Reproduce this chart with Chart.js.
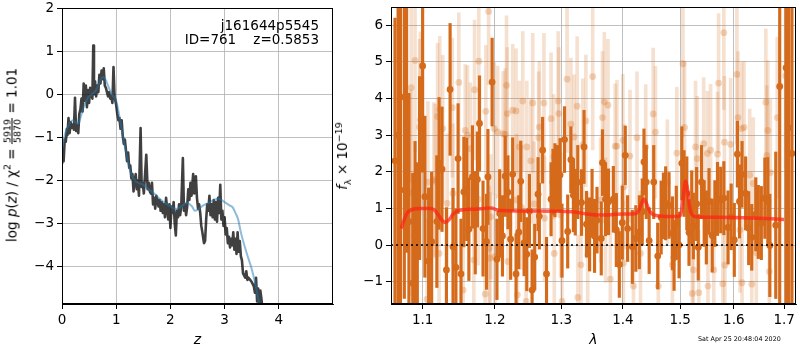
<!DOCTYPE html>
<html lang="en">
<head>
<meta charset="UTF-8">
<title>j161644p5545 ID=761 redshift fit</title>
<script src="https://cdn.jsdelivr.net/npm/chart.js"></script>
<style>
  body { margin: 0; background: #fff; font-family: 'DejaVu Sans', sans-serif; }
  #wrap { position: relative; width: 800px; height: 350px; overflow: hidden; }
  canvas { position: absolute; top: 0; }
  #pzChart { left: 0; }
  #specChart { left: 340px; }
  .txt { position: absolute; color: #000; white-space: pre; font-size: 13.5px; line-height: 14px; }
  .rot { transform: translate(-50%, -50%) rotate(-90deg); }
  .frac { display: inline-flex; flex-direction: column; vertical-align: middle; font-size: 9.5px; line-height: 9px; text-align: center; }
  .frac span:first-child { border-bottom: 0.8px solid #000; padding: 0 1px; }
  sup, sub { font-size: 9.5px; line-height: 0; }
</style>
</head>
<body>
<div id="wrap">
  <canvas id="pzChart" width="340" height="350"></canvas>
  <canvas id="specChart" width="460" height="350"></canvas>

  <div class="txt" style="right:481px; top:18px; text-align:right;">j161644p5545
ID=761    z=0.5853</div>
  <div class="txt rot" style="left:12px; top:155px;">log <i>p</i>(<i>z</i>) / χ<sup>2</sup> = <span class="frac"><span>5919</span><span>5870</span></span> = 1.01</div>
  <div class="txt rot" style="left:342px; top:156px;"><i>f</i><sub>λ</sub> × 10<sup>−19</sup></div>
  <div class="txt" style="left:698px; top:335px; font-size:6.4px; line-height:8px;">Sat Apr 25 20:48:04 2020</div>
</div>

<script>
  // p(z) panel
  const zGrid = [0.00, 0.02, 0.03, 0.05, 0.07, 0.09, 0.10, 0.12, 0.14, 0.16, 0.18, 0.20, 0.22, 0.24, 0.26, 0.28, 0.30,
    0.32, 0.34, 0.36, 0.38, 0.40, 0.42, 0.44, 0.46, 0.48, 0.50, 0.52, 0.54, 0.56, 0.577, 0.59, 0.61, 0.63, 0.65,
    0.67, 0.69, 0.71, 0.73, 0.75, 0.77, 0.79, 0.81, 0.83, 0.85, 0.87, 0.89, 0.91, 0.93, 0.95, 0.97, 1.00, 1.02,
    1.04, 1.06, 1.08, 1.10, 1.12, 1.14, 1.16, 1.18, 1.20, 1.22, 1.24, 1.26, 1.28, 1.30, 1.32, 1.34, 1.36, 1.38,
    1.40, 1.42, 1.45, 1.47, 1.49, 1.51, 1.53, 1.555, 1.58, 1.60, 1.62, 1.64, 1.66, 1.68, 1.70, 1.72, 1.74, 1.76,
    1.78, 1.80, 1.82, 1.84, 1.86, 1.88, 1.90, 1.92, 1.94, 1.96, 1.98, 2.00, 2.02, 2.04, 2.06, 2.08, 2.10, 2.12,
    2.14, 2.16, 2.18, 2.20, 2.23, 2.25, 2.27, 2.29, 2.31, 2.33, 2.35, 2.37, 2.39, 2.42, 2.44, 2.47, 2.49, 2.51,
    2.53, 2.55, 2.57, 2.59, 2.62, 2.64, 2.66, 2.68, 2.70, 2.72, 2.74, 2.76, 2.78, 2.80, 2.82, 2.84, 2.86, 2.88,
    2.90, 2.92, 2.94, 2.96, 2.98, 3.00, 3.02, 3.04, 3.06, 3.08, 3.10, 3.12, 3.14, 3.16, 3.18, 3.20, 3.22, 3.24,
    3.26, 3.28, 3.30, 3.32, 3.34, 3.36, 3.38, 3.40, 3.42, 3.44, 3.47, 3.50, 3.52, 3.54, 3.56, 3.58, 3.60, 3.62,
    3.64, 3.66, 3.68, 3.70];
  const logPz = [-1.62, -1.30, -1.55, -1.05, -1.10, -0.80, -0.95, -0.55, -0.90, -0.65, -0.78, -0.70, -0.82, -0.08,
    -0.85, -0.72, -0.90, -0.45, -0.35, -0.10, -0.40, 0.25, -0.15, 0.20, -0.30, 0.10, -0.20, 0.15, 0.05, -0.10, 1.13,
    0.00, 0.30, -0.05, 0.20, 0.05, 0.45, 0.25, 0.55, 0.35, 0.60, 0.20, 0.15, 0.05, -0.05, 0.05, -0.10, -0.05, -0.20,
    0.63, -0.05, -0.25, -0.45, -0.60, -0.55, -0.80, -0.60, -0.95, -1.15, -1.05, -1.30, -1.55, -1.35, -1.70, -1.65,
    -1.95, -1.85, -2.25, -2.00, -1.85, -2.20, -2.00, -2.35, -0.78, -2.15, -2.05, -2.30, -1.90, -1.40, -2.20, -2.05,
    -2.25, -2.30, -2.05, -2.55, -2.40, -2.65, -2.35, -2.45, -2.60, -2.45, -2.70, -2.50, -2.75, -2.55, -2.85, -2.40,
    -2.65, -2.90, -2.55, -3.10, -2.60, -2.75, -2.50, -3.00, -3.27, -2.70, -2.85, -2.55, -2.80, -2.60, -1.48, -2.70,
    -2.55, -2.80, -2.60, -2.20, -2.45, -2.05, -2.35, -1.85, -2.30, -1.90, -2.40, -2.65, -2.55, -2.75, -3.05, -3.20,
    -3.45, -3.40, -2.90, -2.55, -2.70, -2.35, -2.80, -2.55, -2.85, -2.45, -2.90, -2.50, -2.95, -2.40, -2.75, -2.10,
    -2.90, -2.70, -3.05, -2.85, -3.25, -3.10, -3.45, -3.30, -3.55, -3.35, -3.50, -3.20, -3.60, -3.35, -3.70, -3.20,
    -3.65, -3.40, -3.75, -3.85, -4.15, -4.20, -4.25, -4.10, -4.30, -4.25, -4.30, -4.35, -4.40, -4.45, -4.60, -4.25,
    -4.80, -4.50, -4.95, -4.55, -4.75, -5.00];

  // smooth template curve
  const zTemplate = [0.00, 0.05, 0.10, 0.15, 0.20, 0.25, 0.30, 0.35, 0.40, 0.45, 0.50, 0.55, 0.60, 0.65, 0.70, 0.75,
    0.80, 0.85, 0.90, 0.95, 1.00, 1.05, 1.10, 1.15, 1.20, 1.25, 1.30, 1.35, 1.40, 1.50, 1.60, 1.70, 1.80, 1.90,
    2.00, 2.10, 2.20, 2.30, 2.40, 2.45, 2.50, 2.60, 2.70, 2.80, 2.90, 3.00, 3.10, 3.15, 3.20, 3.25, 3.30, 3.40,
    3.50, 3.55, 3.60, 3.65];
  const logPzTemplate = [-1.30, -0.95, -0.78, -0.65, -0.60, -0.65, -0.68, -0.50, -0.30, -0.14, -0.05, 0.00, 0.05,
    0.15, 0.30, 0.40, 0.35, 0.20, 0.05, -0.05, -0.15, -0.45, -0.80, -1.15, -1.45, -1.75, -1.92, -2.00, -2.05,
    -2.10, -2.20, -2.30, -2.42, -2.52, -2.60, -2.66, -2.60, -2.52, -2.60, -2.70, -2.68, -2.58, -2.52, -2.45,
    -2.42, -2.50, -2.58, -2.62, -2.75, -2.90, -3.20, -3.65, -4.05, -4.30, -4.60, -4.95];

  const zTicks = [0, 1, 2, 3, 4];
  const logPzTicks = [-4, -3, -2, -1, 0, 1, 2];

  // G141 spectrum: optimal extraction
  const specWave = [1.064, 1.068, 1.071, 1.076, 1.079, 1.082, 1.087, 1.090, 1.093, 1.096, 1.100, 1.103, 1.108,
    1.112, 1.119, 1.122, 1.126, 1.132, 1.137, 1.141, 1.145, 1.148, 1.152, 1.156, 1.160, 1.163, 1.168, 1.172, 1.175,
    1.178, 1.183, 1.188, 1.190, 1.196, 1.203, 1.207, 1.211, 1.215, 1.219, 1.223, 1.226, 1.231, 1.235, 1.238, 1.243,
    1.247, 1.251, 1.255, 1.259, 1.264, 1.266, 1.271, 1.277, 1.284, 1.287, 1.290, 1.294, 1.298, 1.301, 1.305, 1.310,
    1.315, 1.319, 1.322, 1.326, 1.332, 1.336, 1.340, 1.345, 1.349, 1.353, 1.357, 1.364, 1.366, 1.371, 1.376, 1.384,
    1.389, 1.394, 1.399, 1.404, 1.408, 1.416, 1.422, 1.428, 1.433, 1.436, 1.440, 1.445, 1.453, 1.460, 1.466, 1.470,
    1.474, 1.480, 1.486, 1.489, 1.493, 1.498, 1.503, 1.507, 1.512, 1.516, 1.521, 1.524, 1.530, 1.533, 1.539, 1.544,
    1.548, 1.553, 1.559, 1.564, 1.569, 1.575, 1.581, 1.589, 1.595, 1.601, 1.607, 1.611, 1.616, 1.623, 1.629, 1.635,
    1.643, 1.648, 1.654, 1.661, 1.667, 1.671, 1.683, 1.691, 1.704, 1.709, 1.716];
  const specFlux = [2.30, 3.00, 1.50, 4.04, 3.30, 0.64, -1.04, 0.23, -0.15, 2.10, 4.89, 1.32, -0.44, 0.09, 0.64,
    2.23, 2.07, -0.68, 4.25, -0.05, -0.61, 2.36, -0.79, 1.45, 1.52, 0.43, 1.86, 0.61, 1.79, 3.32, 0.45, 0.09, 1.86,
    4.45, -0.39, 0.86, 0.25, 1.88, 1.44, 0.16, 1.93, -0.79, 0.35, 1.74, 0.06, -0.25, 0.93, -1.23, -0.33, 1.39, 0.79,
    2.59, -0.79, 1.25, 1.72, 1.77, 1.82, 1.91, 0.12, 2.88, 0.37, 2.33, 1.36, 1.17, 1.72, 1.16, 2.68, 0.57, 0.29,
    1.17, 0.25, 0.68, 0.18, 2.25, 1.25, 1.18, 1.25, 0.41, -0.53, 0.61, 2.45, 0.45, -0.05, 0.18, 0.35, 0.91, 2.27,
    1.72, 0.12, 1.72, -0.30, 0.75, 1.07, 1.14, 1.08, 0.32, -0.34, 0.61, 0.00, 2.23, 1.68, 1.41, 0.34, 1.03, 0.52,
    1.12, -0.06, 1.72, 0.86, 0.48, 1.19, 0.26, 0.86, 1.26, 1.23, 1.28, 0.48, 0.77, 0.14, 2.48, 1.19, 1.93, 1.41,
    0.46, 0.21, 0.84, 0.63, 0.60, 1.28, 1.19, -0.01, 0.54, 4.33, 4.84, 3.20, 2.50];
  const specErr = [3.9, 6.0, 7.0, 5.5, 3.5, 3.5, 3.0, 2.6, 2.4, 2.5, 2.9, 2.2, 2.0, 1.9, 1.8, 1.8, 1.7, 1.7, 1.8,
    1.6, 1.6, 1.5, 1.5, 1.5, 1.4, 1.4, 1.4, 1.4, 1.3, 1.3, 1.3, 1.3, 1.3, 1.2, 1.1, 1.2, 1.1, 1.1, 1.0, 1.1, 1.0,
    1.1, 1.0, 1.1, 0.9, 1.0, 1.0, 1.1, 0.9, 1.0, 0.9, 0.9, 1.0, 1.0, 0.9, 1.0, 0.9, 1.0, 1.0, 0.9, 1.0, 0.9, 1.0,
    0.9, 1.0, 0.9, 1.0, 0.9, 1.0, 0.9, 1.0, 0.9, 1.0, 0.9, 1.0, 0.9, 0.9, 1.0, 0.9, 1.0, 0.8, 0.9, 1.0, 0.9, 1.0,
    0.9, 0.9, 1.0, 0.9, 1.0, 0.9, 1.0, 0.9, 1.0, 0.9, 1.0, 0.9, 1.0, 0.9, 1.0, 0.9, 1.0, 0.9, 1.0, 0.9, 1.0, 0.9,
    1.0, 0.9, 1.0, 0.9, 1.0, 0.9, 1.0, 0.9, 1.0, 1.0, 0.9, 1.0, 0.9, 1.0, 0.9, 1.0, 1.0, 0.9, 1.0, 1.0, 1.0, 1.1,
    1.2, 1.4, 2.0, 6.5, 6.5, 5.0, 6.0];

  // second exposure (drawn faint)
  const specWave2 = [1.084, 1.085, 1.090, 1.096, 1.097, 1.106, 1.107, 1.115, 1.117, 1.120, 1.122, 1.123, 1.127,
    1.133, 1.140, 1.141, 1.149, 1.155, 1.158, 1.161, 1.165, 1.170, 1.171, 1.176, 1.177, 1.186, 1.187, 1.191, 1.192,
    1.193, 1.194, 1.199, 1.200, 1.204, 1.212, 1.215, 1.217, 1.218, 1.219, 1.226, 1.231, 1.232, 1.233, 1.236, 1.239,
    1.241, 1.246, 1.247, 1.253, 1.256, 1.258, 1.265, 1.266, 1.273, 1.274, 1.284, 1.288, 1.289, 1.295, 1.296, 1.299,
    1.301, 1.309, 1.315, 1.320, 1.325, 1.326, 1.331, 1.334, 1.339, 1.342, 1.350, 1.363, 1.366, 1.369, 1.371, 1.375,
    1.379, 1.387, 1.390, 1.400, 1.401, 1.402, 1.412, 1.418, 1.424, 1.430, 1.439, 1.452, 1.456, 1.461, 1.477, 1.486,
    1.494, 1.505, 1.508, 1.522, 1.524, 1.528, 1.531, 1.534, 1.543, 1.550, 1.551, 1.556, 1.562, 1.569, 1.571, 1.579,
    1.581, 1.582, 1.583, 1.594, 1.606, 1.608, 1.612, 1.615, 1.616, 1.620, 1.631, 1.635, 1.638, 1.644, 1.663, 1.665,
    1.667, 1.670, 1.672, 1.686, 1.703];
  const specFlux2 = [1.43, 4.30, 5.04, 3.22, 3.42, -1.48, 1.72, 1.79, 1.74, 3.51, -0.23, 3.70, 3.18, 1.14, 3.75,
    1.41, 4.44, -1.23, 3.13, 3.00, 2.63, -0.41, 4.24, 1.25, 5.02, -1.34, 3.65, 6.38, -0.09, -0.36, 0.77, 3.18,
    -0.32, 3.09, 3.04, 3.02, 4.36, 3.59, -0.45, 3.68, 3.66, 1.23, -1.36, 2.68, 1.03, 3.93, -1.54, 2.68, 2.30, 3.88,
    1.12, 2.93, 3.22, 3.88, 0.73, 3.45, 2.41, -0.23, 3.93, 3.59, 0.82, -1.54, 4.53, 3.30, 2.95, 3.79, -1.43, -0.54,
    2.74, 3.39, -0.27, 4.60, 1.23, 3.48, 3.91, 0.68, 3.82, -0.93, 2.70, 2.70, 2.86, -0.50, 1.59, 2.43, -1.12, 2.93,
    -0.23, 2.68, 3.58, 3.08, -1.12, 1.72, -0.54, 2.51, 4.95, 3.21, -1.32, -0.68, 2.68, 2.36, -1.30, 2.77, 2.50,
    -1.12, 2.59, -0.68, 2.48, 4.42, -1.06, 5.80, 2.81, -0.55, 2.75, 4.66, 3.48, 0.41, 3.18, -1.03, 3.21, 1.91,
    -1.07, 1.68, -0.21, 3.90, 2.45, 3.13, -0.73, 1.98, 3.48, 4.62];
  const specErr2 = [2.8, 2.6, 2.5, 2.4, 2.4, 2.2, 2.2, 2.1, 2.1, 2.0, 2.0, 2.0, 2.0, 1.9, 1.9, 1.9, 1.9, 1.8, 1.8,
    1.9, 1.8, 1.8, 1.9, 1.8, 1.9, 1.8, 1.8, 2.0, 1.7, 1.8, 1.7, 1.8, 1.7, 1.8, 1.7, 1.8, 1.9, 1.8, 1.7, 1.8, 1.7,
    1.8, 1.7, 1.8, 1.7, 1.9, 1.7, 1.8, 1.7, 1.9, 1.7, 1.8, 1.8, 1.9, 1.7, 1.8, 1.7, 1.7, 1.9, 1.8, 1.7, 1.7, 2.0,
    1.8, 1.7, 1.9, 1.7, 1.7, 1.8, 1.8, 1.7, 2.0, 1.7, 1.8, 1.9, 1.7, 1.8, 1.7, 1.7, 1.8, 1.8, 1.7, 1.7, 1.8, 1.7,
    1.8, 1.7, 1.7, 1.8, 1.8, 1.7, 1.7, 1.7, 1.8, 2.0, 1.8, 1.7, 1.7, 1.8, 1.7, 1.7, 1.8, 1.7, 1.7, 1.8, 1.7, 1.7,
    1.9, 1.7, 2.1, 1.8, 1.7, 1.8, 1.9, 1.8, 1.7, 1.8, 1.7, 1.8, 1.8, 1.7, 1.8, 1.8, 2.0, 1.9, 1.9, 1.9, 2.0, 2.2,
    2.5];

  // best-fit template at z=0.5853 (Hα and [SIII] lines)
  const modelWave = [1.072, 1.076, 1.080, 1.085, 1.090, 1.100, 1.110, 1.116, 1.121, 1.126, 1.131, 1.136, 1.141,
    1.147, 1.155, 1.170, 1.185, 1.195, 1.200, 1.205, 1.210, 1.230, 1.260, 1.300, 1.320, 1.340, 1.360, 1.380, 1.400,
    1.415, 1.422, 1.428, 1.432, 1.436, 1.440, 1.445, 1.450, 1.460, 1.480, 1.495, 1.500, 1.504, 1.507, 1.510, 1.513,
    1.517, 1.522, 1.530, 1.550, 1.600, 1.650, 1.700];
  const modelFlux = [0.45, 0.70, 0.88, 0.96, 0.99, 1.00, 1.00, 0.95, 0.82, 0.68, 0.62, 0.70, 0.84, 0.93, 0.96, 0.98,
    1.00, 1.01, 0.98, 0.95, 0.94, 0.93, 0.93, 0.92, 0.90, 0.85, 0.82, 0.83, 0.85, 0.85, 0.86, 0.98, 1.15, 1.25,
    1.15, 0.95, 0.85, 0.80, 0.78, 0.78, 0.80, 1.10, 1.50, 1.75, 1.55, 1.05, 0.82, 0.77, 0.76, 0.75, 0.73, 0.70];

  const lamTicks = [1.1, 1.2, 1.3, 1.4, 1.5, 1.6, 1.7];
  const fluxTicks = [-1, 0, 1, 2, 3, 4, 5, 6];
  const lamMin = 1.0589, lamMax = 1.7245;

  const ORANGE = 'rgb(212, 106, 26)';
  const tickFont = { family: 'DejaVu Sans', size: 13.5 };
  const minus = v => v < 0 ? '\u2212' + Math.abs(v) : String(v);

  // black box round the plot area, like matplotlib spines
  const frame = {
    id: 'frame',
    afterDraw(chart) {
      const { ctx, chartArea: a } = chart;
      ctx.save();
      ctx.strokeStyle = '#000';
      ctx.lineWidth = 1;
      ctx.strokeRect(Math.round(a.left) + 0.5, Math.round(a.top) + 0.5,
        Math.round(a.width) - 1, Math.round(a.height) - 1);
      ctx.restore();
    }
  };

  function axis(extra) {
    return Object.assign({
      ticks: { font: tickFont, color: '#000', padding: 3, autoSkip: false, maxRotation: 0 },
      grid: { color: '#b0b0b0', lineWidth: 0.8, tickColor: '#000', tickLength: 5, tickWidth: 1 },
      border: { color: '#000', width: 1 }
    }, extra);
  }

  function fixedTicks(values) {
    return scale => { scale.ticks = values.map(v => ({ value: v })); };
  }

  // fixed box sizes; no extra room for overhanging tick labels
  const fixWidth = w => s => { s.width = w; s.paddingTop = 0; s.paddingBottom = 0; };
  const fixHeight = h => s => { s.height = h; s.paddingLeft = 0; s.paddingRight = 0; };

  const common = {
    responsive: false,
    animation: false,
    events: [],
    plugins: { legend: { display: false }, tooltip: { enabled: false } }
  };

  const xy = (xs, ys) => xs.map((x, i) => ({ x: x, y: ys[i] }));

  new Chart(document.getElementById('pzChart'), {
    type: 'line',
    data: {
      datasets: [
        {
          data: xy(zTemplate, logPzTemplate), order: 0,
          borderColor: 'rgba(31, 119, 180, 0.5)', borderWidth: 2, pointRadius: 0,
          cubicInterpolationMode: 'monotone'
        },
        {
          data: xy(zGrid, logPz), order: 1,
          borderColor: 'rgba(0, 0, 0, 0.75)', borderWidth: 2.6, pointRadius: 0, tension: 0,
          borderJoinStyle: 'round'
        }
      ]
    },
    options: Object.assign({}, common, {
      layout: { padding: { top: 8, right: 7, left: 0, bottom: 0 } },
      scales: {
        x: axis({
          type: 'linear', min: 0, max: 5,
          afterBuildTicks: fixedTicks(zTicks),
          afterFit: fixHeight(46),
          title: { display: true, text: 'z', color: '#000', padding: { top: 0, bottom: 1 },
            font: { family: 'DejaVu Sans', size: 14, style: 'italic' } }
        }),
        y: axis({
          type: 'linear', min: -4.86, max: 2,
          afterBuildTicks: fixedTicks(logPzTicks),
          afterFit: fixWidth(62)
        })
      }
    }),
    plugins: [frame]
  });
  const pz = Chart.getChart('pzChart');
  pz.options.scales.x.ticks.callback = minus;
  pz.options.scales.y.ticks.callback = minus;
  pz.update();

  const errBars = (w, f, e) => w.map((x, i) => ({ x: x, y: [f[i] - e[i], f[i] + e[i]] }));

  new Chart(document.getElementById('specChart'), {
    type: 'scatter',
    data: {
      datasets: [
        {
          type: 'line', data: xy(modelWave, modelFlux), order: 0,
          borderColor: 'rgba(255, 35, 20, 0.72)', borderWidth: 3.5, pointRadius: 0,
          cubicInterpolationMode: 'monotone'
        },
        {
          type: 'line', data: [{ x: lamMin, y: 0 }, { x: lamMax, y: 0 }], order: 1,
          borderColor: '#000', borderWidth: 1.6, borderDash: [2, 3], pointRadius: 0
        },
        {
          type: 'scatter', data: xy(specWave, specFlux), order: 2,
          pointRadius: 3.4, pointBackgroundColor: ORANGE, pointBorderWidth: 0
        },
        {
          type: 'bar', data: errBars(specWave, specFlux, specErr), order: 3,
          backgroundColor: ORANGE, barThickness: 2.5, grouped: false, borderWidth: 0
        },
        {
          type: 'scatter', data: xy(specWave2, specFlux2), order: 4,
          pointRadius: 3.4, pointBackgroundColor: 'rgba(212, 106, 26, 0.28)', pointBorderWidth: 0
        },
        {
          type: 'bar', data: errBars(specWave2, specFlux2, specErr2), order: 5,
          backgroundColor: 'rgba(212, 106, 26, 0.2)', barThickness: 3, grouped: false, borderWidth: 0
        }
      ]
    },
    options: Object.assign({}, common, {
      layout: { padding: { top: 7, right: 3, left: 0, bottom: 0 } },
      scales: {
        x: axis({
          type: 'logarithmic', min: lamMin, max: lamMax, offset: false,
          afterBuildTicks: fixedTicks(lamTicks),
          afterFit: fixHeight(46),
          title: { display: true, text: 'λ', color: '#000', padding: { top: 0, bottom: 1 },
            font: { family: 'DejaVu Sans', size: 14, style: 'italic' } }
        }),
        y: axis({
          type: 'linear', min: -1.61, max: 6.5,
          afterBuildTicks: fixedTicks(fluxTicks),
          afterFit: fixWidth(51)
        })
      }
    }),
    plugins: [frame]
  });
  const spec = Chart.getChart('specChart');
  spec.options.scales.x.ticks.callback = v => v.toFixed(1);
  spec.options.scales.x.grid.offset = false;
  spec.options.scales.y.ticks.callback = minus;
  spec.update();
</script>
</body>
</html>
